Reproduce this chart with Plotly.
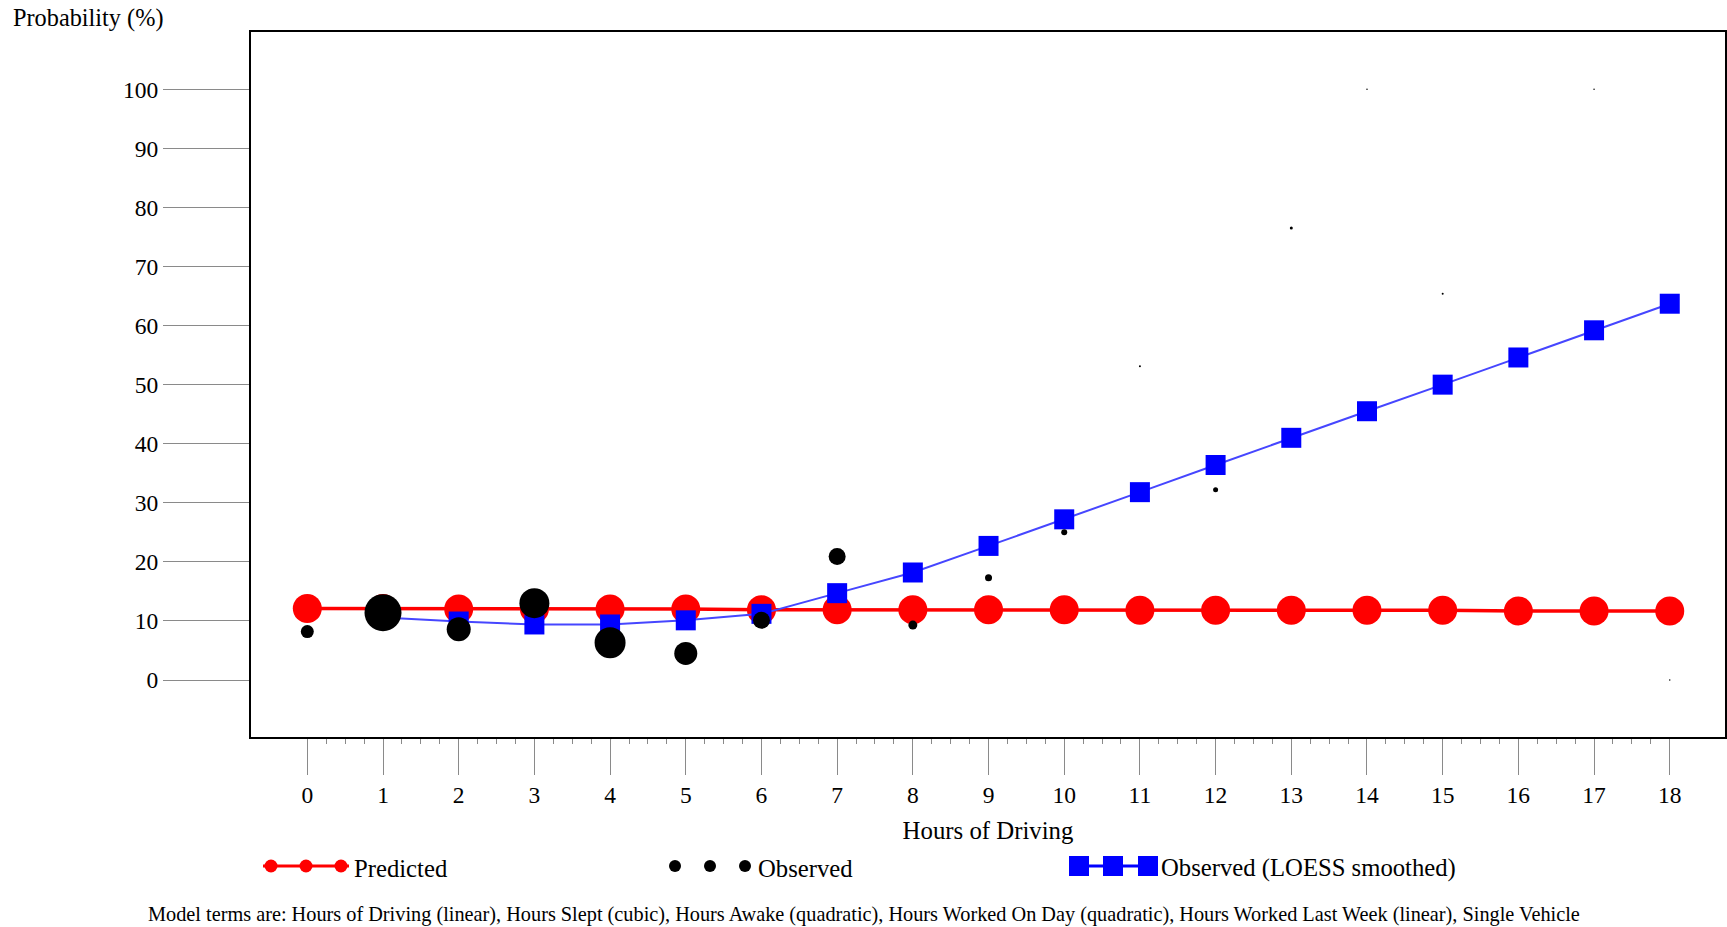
import plotly.graph_objects as go

# ---------------- data ----------------
hours = list(range(19))
hour_labels = [str(h) for h in hours]
prob_ticks = list(range(0, 101, 10))

predicted = [12.1, 12.1, 12.0, 12.0, 12.0, 12.0, 11.9, 11.9, 11.9, 11.9,
             11.9, 11.8, 11.8, 11.8, 11.8, 11.8, 11.7, 11.7, 11.7]

observed = [8.2, 11.4, 8.6, 13.0, 6.3, 4.5, 10.1, 20.9, 9.3, 17.3,
            25.0, 53.1, 32.2, 76.5, 100.0, 65.4, None, 100.0, 0.0]
# relative weight (number of cases) of each observed point, drawn as marker diameter
observed_weight = [13, 37, 24, 30, 31, 23, 17, 17, 9, 7,
                   6, 2, 5, 3, 1.5, 2, 0, 1.5, 1.5]

loess_hours = list(range(1, 19))
loess = [10.6, 9.9, 9.4, 9.4, 10.1, 11.2, 14.7, 18.2, 22.7, 27.2,
         31.8, 36.4, 41.0, 45.5, 50.0, 54.6, 59.2, 63.7]

# ---------------- layout constants (pixels) ----------------
W, H = 1727, 927
PL, PR, PT, PB = 251, 1725, 32, 737   # plot frame
FONT = "Liberation Serif, Times New Roman, serif"
minor_ticks = [q / 4 for q in range(0, 4 * 18 + 1) if q % 4 != 0]

fig = go.Figure()

fig.add_trace(go.Scatter(
    x=hours, y=predicted, mode="lines+markers", name="Predicted",
    line=dict(color="#ff0000", width=3.5),
    marker=dict(symbol="circle", size=29, color="#ff0000", opacity=1),
    showlegend=False, xaxis="x", yaxis="y"))

fig.add_trace(go.Scatter(
    x=loess_hours, y=loess, mode="lines+markers", name="Observed (LOESS smoothed)",
    line=dict(color="#4646ff", width=2),
    marker=dict(symbol="square", size=20, color="#0000ff", opacity=1),
    showlegend=False, xaxis="x", yaxis="y"))

fig.add_trace(go.Scatter(
    x=hours, y=observed, mode="markers", name="Observed",
    marker=dict(symbol="circle", size=observed_weight, sizemode="diameter",
                color="#000000", opacity=1, line=dict(width=0)),
    showlegend=False, xaxis="x", yaxis="y"))

# ---------------- custom legend (3-symbol glyphs) ----------------
LEG_Y = 866
leg_items = [
    dict(name="Predicted", xs=[271, 306, 341], line=(263, 349), sym="circle",
         size=13, color="#ff0000", lcolor="#ff0000", lw=3, tx=352),
    dict(name="Observed", xs=[675, 710, 745], line=None, sym="circle",
         size=12, color="#000000", lcolor=None, lw=0, tx=756),
    dict(name="Observed (LOESS smoothed)", xs=[1079, 1113, 1148], line=(1079, 1148),
         sym="square", size=20, color="#0000ff", lcolor="#0000ff", lw=3, tx=1159),
]
for it in leg_items:
    if it["line"]:
        fig.add_trace(go.Scatter(
            x=list(it["line"]), y=[LEG_Y, LEG_Y], mode="lines",
            line=dict(color=it["lcolor"], width=it["lw"]),
            showlegend=False, hoverinfo="skip", xaxis="x2", yaxis="y2"))
    fig.add_trace(go.Scatter(
        x=it["xs"], y=[LEG_Y] * 3, mode="markers",
        marker=dict(symbol=it["sym"], size=it["size"], color=it["color"], opacity=1),
        showlegend=False, hoverinfo="skip", xaxis="x2", yaxis="y2"))
    fig.add_annotation(x=it["tx"] / W, y=1 - (LEG_Y + 2) / H, xref="paper", yref="paper",
                       text=it["name"], showarrow=False, xanchor="left", yanchor="middle",
                       font=dict(family=FONT, size=24.7, color="#000000"))

# ---------------- axes ----------------
fig.update_layout(
    width=W, height=H,
    margin=dict(l=0, r=0, t=0, b=0),
    paper_bgcolor="white", plot_bgcolor="rgba(0,0,0,0)",
    font=dict(family=FONT, color="#000000"),
    xaxis=dict(
        domain=[PL / W, PR / W], range=[-0.744, 18.73],
        tickmode="array", tickvals=hours, ticktext=hour_labels,
        ticks="outside", ticklen=36, tickwidth=1, tickcolor="#8a8a8a",
        minor=dict(tickmode="array", tickvals=minor_ticks, ticks="outside", ticklen=5,
                   tickwidth=1, tickcolor="#8a8a8a", showgrid=False),
        tickfont=dict(family=FONT, size=23.5, color="#000000"),
        showline=True, linecolor="#000000", linewidth=2, mirror=True,
        showgrid=False, zeroline=False, automargin=False,
        title=dict(text="Hours of Driving", standoff=14,
                   font=dict(family=FONT, size=24.8, color="#000000")),
        anchor="y"),
    yaxis=dict(
        domain=[1 - PB / H, 1 - PT / H], range=[-9.65, 109.7],
        tickmode="array", tickvals=prob_ticks, ticktext=[str(v) for v in prob_ticks],
        ticks="outside", ticklen=86, tickwidth=1, tickcolor="#8a8a8a",
        tickfont=dict(family=FONT, size=23.5, color="#000000"),
        showline=True, linecolor="#000000", linewidth=2, mirror=True,
        showgrid=False, zeroline=False, automargin=False,
        anchor="x"),
    xaxis2=dict(domain=[0, 1], range=[0, W], visible=False, fixedrange=True, anchor="y2"),
    yaxis2=dict(domain=[0, 1], range=[H, 0], visible=False, fixedrange=True, anchor="x2"),
    showlegend=False,
)

fig.add_annotation(x=11 / W, y=1 - 18 / H, xref="paper", yref="paper",
                   text="Probability (%)", showarrow=False, xanchor="left", yanchor="middle",
                   font=dict(family=FONT, size=24.3, color="#000000"))

fig.add_annotation(x=0.5, y=1 - 914 / H, xref="paper", yref="paper",
                   text="Model terms are: Hours of Driving (linear), Hours Slept (cubic), "
                        "Hours Awake (quadratic), Hours Worked On Day (quadratic), "
                        "Hours Worked Last Week (linear), Single Vehicle",
                   showarrow=False, xanchor="center", yanchor="middle",
                   font=dict(family=FONT, size=20.3, color="#000000"))

fig.write_html("out.html")
